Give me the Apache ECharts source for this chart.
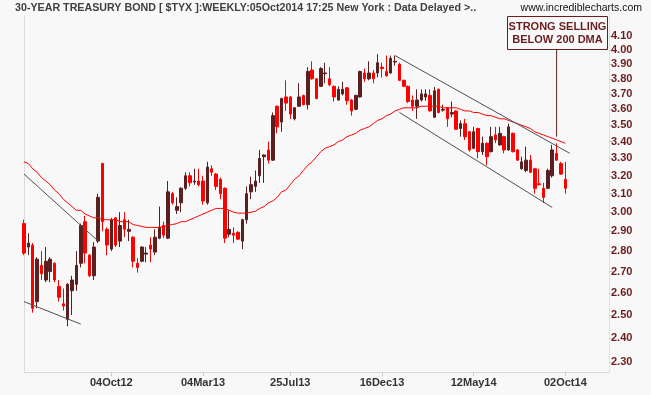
<!DOCTYPE html>
<html><head><meta charset="utf-8">
<script src="https://cdn.jsdelivr.net/npm/echarts@6/dist/echarts.min.js"></script>
<style>html,body{margin:0;padding:0;background:#f8f8f8}#c{width:651px;height:395px}</style>
</head><body><div id="c"></div><script>
// Weekly OHLC of the 30-year Treasury yield ($TYX)
const open = [
2.94,2.82,2.83,2.56,2.73,2.66,2.70,2.74,2.63,2.55,
2.48,2.61,2.64,2.74,2.95,2.78,2.68,2.85,3.27,2.91,
2.81,2.97,2.85,2.96,2.90,2.87,2.74,2.75,2.785,2.83,
2.795,2.865,2.93,2.865,3.10,3.01,3.05,3.13,3.20,3.165,
3.17,3.17,3.05,3.24,3.21,3.18,3.13,2.885,2.89,2.895,
2.85,2.96,3.11,3.14,3.20,3.31,3.35,3.29,3.62,3.52,
3.68,3.68,3.54,3.62,3.69,3.63,3.86,3.80,3.75,3.835,
3.80,3.75,3.66,3.70,3.74,3.66,3.60,3.68,3.84,3.80,
3.84,3.84,3.88,3.85,3.84,3.915,3.90,3.79,3.75,3.66,
3.62,3.66,3.68,3.69,3.55,3.73,3.595,3.61,3.57,3.59,
3.48,3.51,3.46,3.36,3.48,3.34,3.39,3.34,3.44,3.38,
3.43,3.35,3.45,3.35,3.24,3.23,3.29,3.24,3.155,3.13,
3.13,3.20,3.33,3.27,3.18];
const close = [
2.79,2.84,2.53,2.76,2.69,2.75,2.76,2.66,2.58,2.54,
2.64,2.66,2.73,2.93,2.79,2.68,2.82,3.08,2.95,2.83,
2.96,2.83,2.93,2.91,2.91,2.75,2.72,2.82,2.79,2.81,
2.87,2.92,2.88,3.11,3.05,3.03,3.13,3.20,3.16,3.17,
3.15,3.06,3.25,3.22,3.14,3.10,2.865,2.91,2.88,2.86,
2.96,3.10,3.15,3.17,3.30,3.32,3.29,3.56,3.49,3.67,
3.64,3.57,3.61,3.68,3.63,3.85,3.80,3.67,3.87,3.84,
3.76,3.68,3.73,3.73,3.655,3.59,3.69,3.85,3.80,3.84,
3.80,3.91,3.87,3.82,3.94,3.92,3.79,3.75,3.65,3.62,
3.66,3.70,3.70,3.59,3.72,3.58,3.60,3.54,3.58,3.475,
3.51,3.43,3.35,3.46,3.34,3.39,3.31,3.43,3.41,3.45,
3.35,3.49,3.34,3.29,3.28,3.29,3.22,3.13,3.15,3.08,
3.23,3.35,3.29,3.21,3.13];
const low = [
2.78,2.78,2.51,2.53,2.66,2.65,2.65,2.65,2.56,2.52,
2.45,2.50,2.61,2.72,2.74,2.675,2.66,2.84,2.90,2.78,
2.80,2.82,2.82,2.87,2.85,2.72,2.695,2.745,2.745,2.745,
2.78,2.86,2.865,2.86,3.04,2.99,3.00,3.12,3.14,3.15,
3.14,3.04,3.04,3.20,3.12,3.07,2.84,2.87,2.84,2.855,
2.81,2.94,3.07,3.11,3.16,3.16,3.27,3.285,3.45,3.46,
3.59,3.54,3.53,3.615,3.625,3.60,3.795,3.665,3.745,3.77,
3.75,3.65,3.655,3.69,3.63,3.56,3.595,3.675,3.78,3.79,
3.77,3.81,3.81,3.815,3.835,3.89,3.785,3.745,3.64,3.59,
3.54,3.65,3.655,3.585,3.545,3.575,3.585,3.49,3.55,3.47,
3.43,3.41,3.34,3.355,3.30,3.32,3.26,3.335,3.39,3.375,
3.33,3.345,3.335,3.285,3.235,3.22,3.215,3.10,3.145,3.05,
3.125,3.19,3.285,3.205,3.10];
const high = [
2.96,2.89,2.84,2.77,2.80,2.82,2.77,2.745,2.66,2.62,
2.645,2.68,2.80,2.94,2.98,2.785,2.845,3.10,3.275,2.92,
2.97,2.975,3.00,3.00,2.96,2.875,2.765,2.825,2.82,2.87,
2.91,3.03,2.95,3.17,3.11,3.08,3.135,3.22,3.22,3.24,
3.24,3.20,3.28,3.26,3.215,3.19,3.135,3.01,2.92,2.90,
2.965,3.14,3.195,3.23,3.35,3.325,3.40,3.58,3.625,3.675,
3.79,3.685,3.615,3.77,3.695,3.88,3.92,3.805,3.88,3.91,
3.88,3.755,3.75,3.78,3.745,3.665,3.695,3.855,3.87,3.92,
3.86,3.97,3.91,3.96,3.96,3.96,3.91,3.795,3.755,3.69,
3.73,3.73,3.73,3.73,3.745,3.735,3.63,3.615,3.65,3.595,
3.53,3.54,3.465,3.49,3.485,3.43,3.395,3.49,3.49,3.49,
3.435,3.51,3.455,3.355,3.31,3.37,3.32,3.245,3.24,3.16,
3.24,3.38,3.39,3.28,3.28];
// 200-day moving average
const ma200 = [
3.28,3.27,3.24,3.22,3.19,3.17,3.15,3.12,3.10,3.07,
3.05,3.03,3.01,3.01,2.99,2.98,2.97,2.97,2.96,2.96,
2.96,2.96,2.95,2.95,2.95,2.935,2.93,2.925,2.92,2.92,
2.92,2.92,2.925,2.93,2.935,2.94,2.95,2.95,2.96,2.97,
2.98,2.99,3.00,3.01,3.02,3.02,3.02,3.01,3.00,2.995,
2.995,2.995,3.00,3.005,3.02,3.03,3.05,3.06,3.08,3.11,
3.12,3.15,3.18,3.20,3.23,3.26,3.28,3.31,3.34,3.36,
3.37,3.38,3.40,3.41,3.43,3.44,3.45,3.47,3.48,3.49,
3.51,3.53,3.54,3.56,3.57,3.59,3.60,3.61,3.61,3.61,
3.61,3.62,3.62,3.62,3.62,3.62,3.61,3.61,3.61,3.61,
3.60,3.59,3.59,3.58,3.58,3.57,3.56,3.56,3.55,3.54,
3.54,3.53,3.52,3.51,3.50,3.49,3.48,3.46,3.45,3.44,
3.43,3.42,3.41,3.40,3.39];
// trend lines: [[weekIndex, yield], [weekIndex, yield]]
const trendLines = [
  [[0,3.21],[17,2.85]],
  [[0,2.56],[13,2.46]],
  [[85,3.96],[125,3.33]],
  [[86,3.58],[121,3.025]]
];
const yTicks = [2.30,2.40,2.50,2.60,2.70,2.80,2.90,3.00,3.10,3.20,3.30,3.40,3.50,3.60,3.70,3.80,3.90,4.00,4.10];
const yMin = 2.2597, yMax = 4.248;
const xTickIndex = [20,41,61,82,103,124];
const xTickLabels = ['04Oct12','04Mar13','25Jul13','16Dec13','12May14','02Oct14'];
const slotCount = 135; // weekly slots incl. empty space at right
const annotationIndex = 122, annotationTop = 4.007, annotationBottom = 3.43;
const titleText = '30-YEAR TREASURY BOND [ $TYX ]:WEEKLY:05Oct2014 17:25 New York : Data Delayed >..';

const L = Math.log;
const categories = Array.from({length: slotCount}, (_, i) => 'w' + i);
const candles = open.map((o, i) => [L(o), L(close[i]), L(low[i]), L(high[i])]);
const FONT = 'Liberation Sans, Arial, sans-serif';
const maroon = '#6b1d1d';

const series = [
  {
    type: 'candlestick', data: candles, barWidth: 3, silent: true,
    itemStyle: {color: '#5c1f1f', color0: '#ff0000', borderColor: '#5c1f1f', borderColor0: '#ff0000', borderWidth: 1}
  },
  {
    type: 'line', data: ma200.map(L), symbol: 'none', silent: true,
    lineStyle: {color: '#ff0000', width: 1}
  }
];
trendLines.forEach(tl => series.push({
  type: 'line', data: tl.map(p => [p[0], L(p[1])]), symbol: 'none', silent: true,
  lineStyle: {color: '#505050', width: 1}
}));
series.push({
  type: 'line', data: [[annotationIndex, L(annotationTop)], [annotationIndex, L(annotationBottom)]],
  symbol: 'none', silent: true, lineStyle: {color: '#5c1f1f', width: 1}
});

const chart = echarts.init(document.getElementById('c'), null, {renderer: 'canvas'});
chart.setOption({
  animation: false,
  backgroundColor: '#f8f8f8',
  grid: {left: 24, right: 42, top: 16, bottom: 23},
  xAxis: {
    type: 'category', data: categories, boundaryGap: false,
    axisLine: {show: true, lineStyle: {color: '#d8d8d8'}},
    axisTick: {show: true, interval: (i) => xTickIndex.includes(i), length: 4, lineStyle: {color: '#cccccc'}},
    axisLabel: {
      interval: (i) => xTickIndex.includes(i),
      formatter: (v, i) => { const k = xTickIndex.indexOf(i); return k >= 0 ? xTickLabels[k] : ''; },
      color: '#333', fontWeight: 'bold', fontSize: 11, fontFamily: FONT, margin: 5
    },
    splitLine: {show: false}
  },
  yAxis: [
    {
      type: 'value', position: 'right', min: L(yMin), max: L(yMax),
      axisLine: {show: true, lineStyle: {color: '#e0e0e0'}},
      axisTick: {show: true, customValues: yTicks.map(L), length: 4, lineStyle: {color: '#c8c8c8'}},
      axisLabel: {
        customValues: yTicks.map(L), formatter: (v) => Math.exp(v).toFixed(2),
        color: maroon, fontWeight: 'bold', fontSize: 11, fontFamily: FONT, margin: 2
      },
      splitLine: {show: false}
    },
    {
      type: 'value', position: 'left', min: L(yMin), max: L(yMax),
      axisLine: {show: true, lineStyle: {color: '#dcdcdc'}},
      axisTick: {show: false}, axisLabel: {show: false}, splitLine: {show: false}
    }
  ],
  series: series,
  graphic: [
    {type: 'text', left: 15, top: 3, style: {text: titleText, font: 'bold 10.7px ' + FONT, fill: '#404040'}},
    {type: 'text', right: 9, top: 3, style: {text: 'www.incrediblecharts.com', font: '10.5px ' + FONT, fill: '#111'}},
    {
      type: 'group', left: 507, top: 16,
      children: [
        {type: 'rect', shape: {x: 0.5, y: 0.5, width: 100, height: 33}, style: {fill: '#f8f8f8', stroke: maroon, lineWidth: 1}},
        {type: 'text', x: 50.5, y: 17, style: {text: 'STRONG SELLING\nBELOW 200 DMA', align: 'center', verticalAlign: 'middle', font: 'bold 11px ' + FONT, fill: maroon, lineHeight: 13}}
      ]
    }
  ]
});
</script></body></html>
